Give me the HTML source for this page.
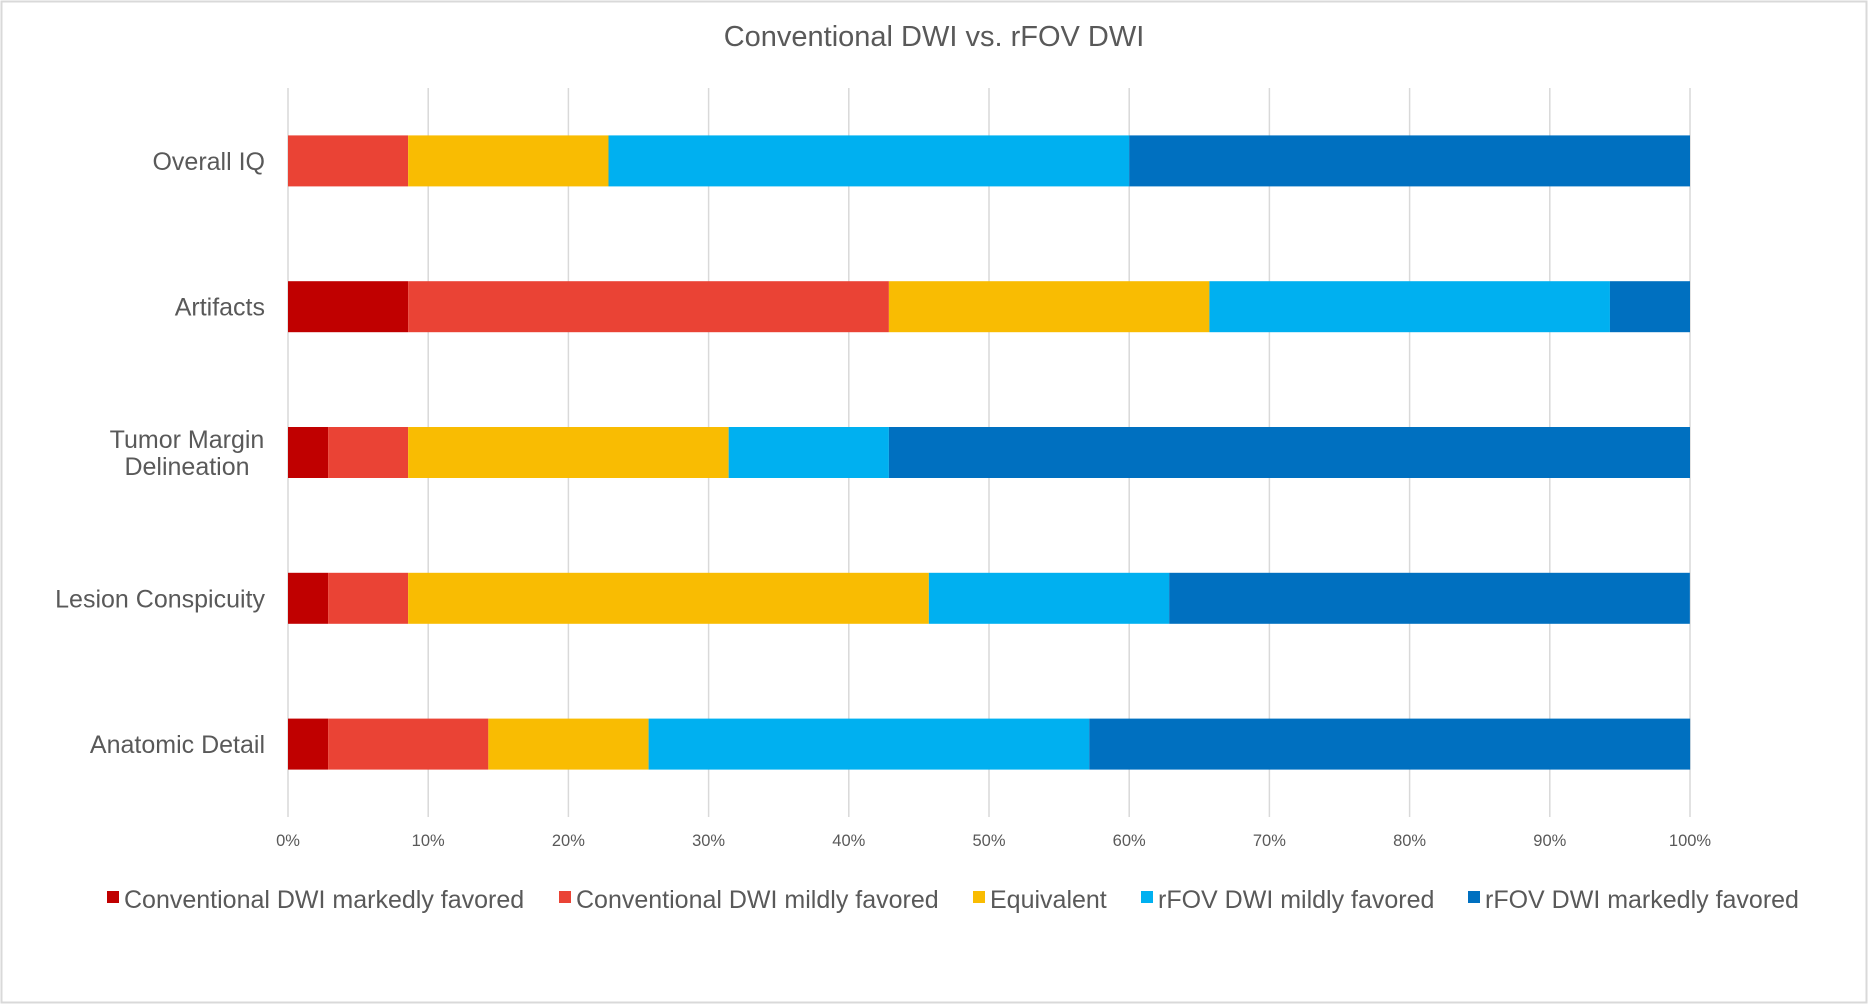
<!DOCTYPE html>
<html><head><meta charset="utf-8"><style>
html,body{margin:0;padding:0;background:#fff;}
svg{display:block;font-family:"Liberation Sans",Arial,sans-serif;}
</style></head><body>
<svg id="chart" width="1868" height="1004">
<rect x="1.5" y="1.5" width="1865" height="1001" fill="#fff" stroke="#d9d9d9" stroke-width="2"/>
<text x="934" y="46" text-anchor="middle" font-size="29" fill="#595959">Conventional DWI vs. rFOV DWI</text>
<g id="grid"></g><g id="bars"></g><g id="xticks"></g><g id="ylabels"></g><g id="legend"></g>
</svg>
<script>
const categories = ["Overall IQ","Artifacts","Tumor Margin Delineation","Lesion Conspicuity","Anatomic Detail"];
const seriesNames = ["Conventional DWI markedly favored","Conventional DWI mildly favored","Equivalent","rFOV DWI mildly favored","rFOV DWI markedly favored"];
const markedConv = [0, 8.57, 2.86, 2.86, 2.86];
const mildConv = [8.57, 34.29, 5.71, 5.71, 11.43];
const equivalent = [14.29, 22.86, 22.86, 37.14, 11.43];
const mildRfov = [37.14, 28.57, 11.43, 17.14, 31.43];
const markedRfov = [40, 5.71, 57.14, 37.14, 42.86];
const tickValues = [0,10,20,30,40,50,60,70,80,90,100];
const tickLabels = ["0%","10%","20%","30%","40%","50%","60%","70%","80%","90%","100%"];

const colors = ["#C00000","#EA4335","#F9BC02","#00B0F0","#0070C0"];
const series = [markedConv, mildConv, equivalent, mildRfov, markedRfov];
const NS = "http://www.w3.org/2000/svg";
const x0 = 288, x1 = 1690, yTop = 88, yBot = 817;
const band = (yBot - yTop) / categories.length, barH = 51;
const xs = v => x0 + (x1 - x0) * v / 100;
const yc = i => yTop + band * (i + 0.5);
function mk(tag, attrs, parent){const e=document.createElementNS(NS,tag);for(const k in attrs)e.setAttribute(k,attrs[k]);parent.appendChild(e);return e;}
const grid=document.getElementById('grid'), bars=document.getElementById('bars'), xt=document.getElementById('xticks'), yl=document.getElementById('ylabels'), lg=document.getElementById('legend');
tickValues.forEach((t,i)=>{
  const l=mk('line',{x1:xs(t),x2:xs(t),y1:yTop,y2:yBot,stroke:'#d9d9d9','stroke-width':1.5},grid);
  
  
  const tx=mk('text',{x:xs(t),y:846,'text-anchor':'middle','font-size':16.5,fill:'#595959'},xt);
  tx.textContent=tickLabels[i];
  
  
});
categories.forEach((c,i)=>{
  let acc=0;
  series.forEach((s,j)=>{
    const r=mk('rect',{x:xs(acc),y:yc(i)-barH/2,width:xs(acc+s[i])-xs(acc),height:barH,fill:colors[j]},bars);
    
    
    acc+=s[i];
  });
  const words = c==="Tumor Margin Delineation" ? ["Tumor Margin","Delineation"] : [c];
  words.forEach((w,k)=>{
    const t=mk('text',{x: words.length>1 ? 187 : 265,y:yc(i)+9+(k-(words.length-1)/2)*27,'text-anchor':words.length>1?'middle':'end','font-size':25,fill:'#595959'},yl);
    t.textContent=w;
    
    
  });
});
const legX=[107,559,973,1141,1468];
seriesNames.forEach((n,j)=>{
  const g=mk('g',{},lg);
  
  
  mk('rect',{x:legX[j],y:891,width:12,height:12,fill:colors[j]},g);
  const t=mk('text',{x:legX[j]+17,y:908,'font-size':25,fill:'#595959'},g);
  t.textContent=n;
});
</script>
</body></html>
